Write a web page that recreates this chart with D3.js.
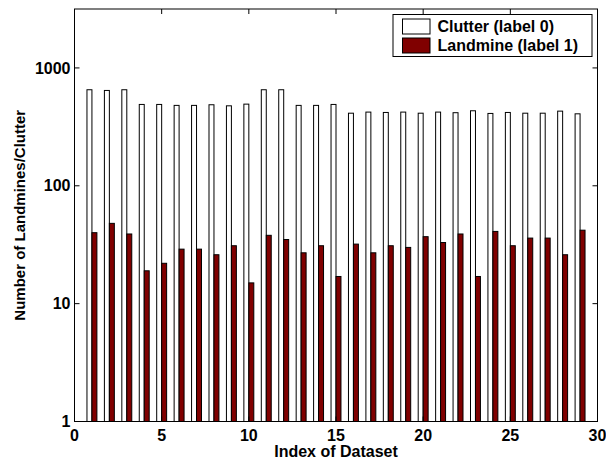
<!DOCTYPE html>
<html>
<head>
<meta charset="utf-8">
<script src="https://cdn.jsdelivr.net/npm/d3@7"></script>
<style>
  body { margin: 0; background: #fff; }
  svg text { font-family: "Liberation Sans", Arial, sans-serif; font-weight: bold; }
</style>
</head>
<body>
<div class="chart"></div>
<script>
// Dataset index 1..29
var datasets = d3.range(1, 30);

// Number of clutter objects (label 0) per dataset
var clutter = [653, 644, 653, 490, 490, 481, 481, 487, 477, 493,
               653, 653, 481, 481, 490, 413, 422, 419, 422, 413,
               422, 417, 433, 411, 419, 413, 413, 430, 408];

// Number of landmines (label 1) per dataset
var landmine = [40, 48, 39, 19, 22, 29, 29, 26, 31, 15,
                38, 35, 27, 31, 17, 32, 27, 31, 30, 37,
                33, 39, 17, 41, 31, 36, 36, 26, 42];

var xTicks = [0, 5, 10, 15, 20, 25, 30];
var yTicks = [1, 10, 100, 1000];
var legendLabels = ["Clutter (label 0)", "Landmine (label 1)"];
var colors = ["#ffffff", "#800000"];

/**
 * Setup drawing area
 */
var width = 606;
var height = 459;
var plot = { left: 74.5, right: 597.5, top: 9, bottom: 421.5 };

var svg = d3.select(".chart").append("svg")
    .attr("width", width)
    .attr("height", height);

var x = d3.scaleLinear().domain([0, 30]).range([plot.left, plot.right]);
var y = d3.scaleLog().domain([1, Math.pow(10, 3.5)]).range([plot.bottom, plot.top]);

var barW = 0.285;

// Clutter bars, left of the index
svg.append("g").selectAll("rect")
    .data(datasets)
    .enter().append("rect")
    .attr("x", function(d) { return x(d - barW); })
    .attr("y", function(d, i) { return y(clutter[i]); })
    .attr("width", x(barW) - x(0))
    .attr("height", function(d, i) { return y(1) - y(clutter[i]); })
    .style("fill", colors[0])
    .style("stroke", "#000")
    .style("stroke-width", 1);

// Landmine bars, right of the index
svg.append("g").selectAll("rect")
    .data(datasets)
    .enter().append("rect")
    .attr("x", function(d) { return x(d); })
    .attr("y", function(d, i) { return y(landmine[i]); })
    .attr("width", x(barW) - x(0))
    .attr("height", function(d, i) { return y(1) - y(landmine[i]); })
    .style("fill", colors[1])
    .style("stroke", "#000")
    .style("stroke-width", 1);

/**
 * Axes (box with ticks on all four sides, pointing inward)
 */
var tickLen = 5;
var axes = svg.append("g").style("stroke", "#000").style("stroke-width", 1);

axes.append("rect")
    .attr("x", plot.left)
    .attr("y", plot.top)
    .attr("width", plot.right - plot.left)
    .attr("height", plot.bottom - plot.top)
    .style("fill", "none");

xTicks.forEach(function(t) {
    axes.append("line")
        .attr("x1", x(t)).attr("x2", x(t))
        .attr("y1", plot.bottom).attr("y2", plot.bottom - tickLen);
    axes.append("line")
        .attr("x1", x(t)).attr("x2", x(t))
        .attr("y1", plot.top).attr("y2", plot.top + tickLen);
});

yTicks.forEach(function(t) {
    axes.append("line")
        .attr("x1", plot.left).attr("x2", plot.left + tickLen)
        .attr("y1", y(t)).attr("y2", y(t));
    axes.append("line")
        .attr("x1", plot.right).attr("x2", plot.right - tickLen)
        .attr("y1", y(t)).attr("y2", y(t));
});

// Tick labels
function label(px, py, txt, anchor, size) {
    return svg.append("text")
        .attr("x", px)
        .attr("y", py)
        .attr("text-anchor", anchor)
        .style("font-size", size + "px")
        .text(txt);
}

xTicks.forEach(function(t) {
    label(x(t), 441, t, "middle", 16);
});

yTicks.forEach(function(t) {
    label(70.5, y(t) + 5.7, t, "end", 16);
});

// Axis titles
label((plot.left + plot.right) / 2, 457, "Index of Dataset", "middle", 16);

svg.append("text")
    .attr("transform", "translate(24.5," + ((plot.top + plot.bottom) / 2) + ") rotate(-90)")
    .attr("text-anchor", "middle")
    .style("font-size", "15px")
    .text("Number of Landmines/Clutter");

/**
 * Legend
 */
var legend = svg.append("g");
legend.append("rect")
    .attr("x", 393).attr("y", 14.5)
    .attr("width", 199).attr("height", 42)
    .style("fill", "#fff")
    .style("stroke", "#000");

legendLabels.forEach(function(txt, i) {
    var cy = 26.5 + i * 19;
    legend.append("rect")
        .attr("x", 402.5).attr("y", cy - 7.5)
        .attr("width", 27.5).attr("height", 15)
        .style("fill", colors[i])
        .style("stroke", "#000");
    label(437.5, cy + 5.7, txt, "start", 16);
});
</script>
</body>
</html>
